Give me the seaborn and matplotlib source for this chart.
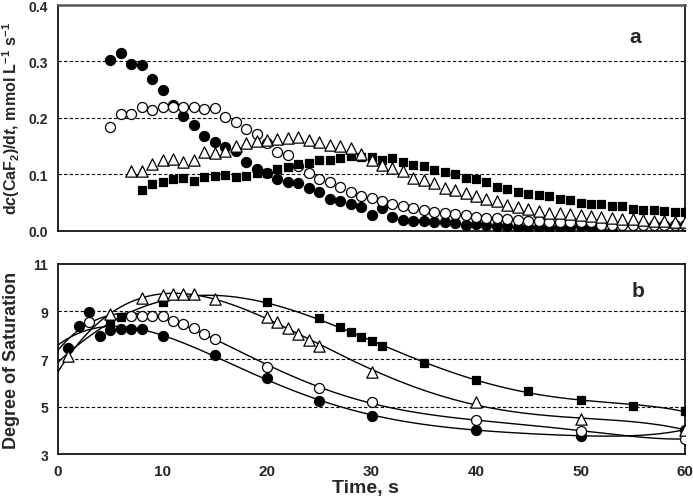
import numpy as np
import pandas as pd
import matplotlib
matplotlib.use("Agg")
import matplotlib.pyplot as plt
import seaborn as sns

# ---------------- data: panel a (rate) ----------------
a_fc_t = list(range(5, 54))
a_fc_v = [0.303, 0.315, 0.296, 0.293, 0.269, 0.249, 0.223, 0.204, 0.188, 0.168,
          0.158, 0.148, 0.142, 0.121, 0.110, 0.103, 0.091, 0.086, 0.085, 0.076,
          0.069, 0.056, 0.052, 0.048, 0.042, 0.027, 0.040, 0.025, 0.019, 0.017,
          0.017, 0.016, 0.015, 0.013, 0.011, 0.012, 0.010, 0.009, 0.008, 0.007,
          0.007, 0.007, 0.007, 0.007, 0.007, 0.008, 0.007, 0.000, 0.000]

a_oc_t = list(range(5, 61))
a_oc_v = [0.183, 0.207, 0.207, 0.219, 0.214, 0.219, 0.219, 0.220, 0.219, 0.215,
          0.217, 0.202, 0.192, 0.181, 0.171, 0.156, 0.140, 0.134, 0.115, 0.103,
          0.092, 0.086, 0.077, 0.069, 0.062, 0.058, 0.053, 0.048, 0.043, 0.040,
          0.037, 0.034, 0.031, 0.029, 0.028, 0.024, 0.023, 0.022, 0.020, 0.019,
          0.018, 0.017, 0.016, 0.015, 0.015, 0.015, 0.015, 0.010, 0.010, 0.010,
          0.010, 0.010, 0.010, 0.010, 0.010, 0.010]

a_tr_t = list(range(7, 61))
a_tr_v = [0.105, 0.105, 0.118, 0.125, 0.127, 0.121, 0.125, 0.140, 0.137, 0.142,
          0.150, 0.156, 0.159, 0.160, 0.162, 0.165, 0.166, 0.161, 0.157, 0.152,
          0.150, 0.146, 0.136, 0.126, 0.117, 0.111, 0.105, 0.094, 0.090, 0.084,
          0.075, 0.072, 0.067, 0.061, 0.056, 0.052, 0.046, 0.042, 0.038, 0.035,
          0.032, 0.031, 0.029, 0.028, 0.026, 0.024, 0.023, 0.021, 0.021, 0.019,
          0.018, 0.017, 0.016, 0.015]

a_sq_t = list(range(8, 61))
a_sq_v = [0.072, 0.082, 0.087, 0.091, 0.094, 0.088, 0.096, 0.097, 0.098, 0.096,
          0.097, 0.102, 0.103, 0.109, 0.113, 0.118, 0.120, 0.125, 0.126, 0.129,
          0.133, 0.131, 0.131, 0.126, 0.128, 0.122, 0.116, 0.114, 0.108, 0.104,
          0.100, 0.094, 0.091, 0.087, 0.078, 0.074, 0.068, 0.065, 0.064, 0.061,
          0.057, 0.054, 0.050, 0.048, 0.047, 0.044, 0.044, 0.038, 0.037, 0.036,
          0.035, 0.034, 0.033]

# ---------------- data: panel b (degree of saturation) ----------------
b_fc_t = [1, 2, 3, 4, 5, 6, 7, 8, 10, 15, 20, 25, 30, 40, 50, 60]
b_fc_v = [7.45, 8.37, 8.98, 7.98, 8.23, 8.26, 8.26, 8.24, 7.97, 7.17, 6.20, 5.25,
          4.62, 4.04, 3.78, 4.04]

b_oc_t = [3, 7, 8, 9, 10, 11, 12, 13, 14, 15, 20, 25, 30, 40, 50, 60]
b_oc_v = [8.56, 8.79, 8.82, 8.79, 8.79, 8.61, 8.47, 8.29, 8.05, 7.83, 6.68, 5.78,
          5.20, 4.44, 3.99, 3.65]

b_tr_t = [1, 5, 8, 10, 11, 12, 13, 15, 20, 21, 22, 23, 24, 25, 30, 40, 50, 60]
b_tr_v = [7.14, 8.89, 9.56, 9.70, 9.72, 9.75, 9.74, 9.54, 8.75, 8.54, 8.29, 8.05,
          7.81, 7.56, 6.47, 5.18, 4.48, 4.04]

b_sq_t = [5, 6, 10, 20, 25, 27, 28, 29, 30, 31, 35, 40, 45, 50, 55, 60]
b_sq_v = [8.54, 8.78, 9.40, 9.38, 8.71, 8.33, 8.12, 7.94, 7.74, 7.56, 6.83, 6.13,
          5.65, 5.29, 5.04, 4.81]

x_ticks_labels = ["0", "10", "20", "30", "40", "50", "60"]
a_yticks = [0.0, 0.1, 0.2, 0.3, 0.4]
b_yticks = [3, 5, 7, 9, 11]

# ---------------- style ----------------
sns.set_theme(style="white")
plt.rcParams['font.family'] = ['Liberation Sans', 'DejaVu Sans']
plt.rcParams['font.weight'] = 'bold'
plt.rcParams['mathtext.fontset'] = 'custom'
plt.rcParams['mathtext.rm'] = 'Liberation Sans:bold'
plt.rcParams['mathtext.it'] = 'Liberation Sans:bold:italic'
plt.rcParams['mathtext.bf'] = 'Liberation Sans:bold'

fig = plt.figure(figsize=(6.93, 5.02), dpi=100)
ax1 = fig.add_axes([0.0837, 0.5384, 0.9048, 0.4496])
ax2 = fig.add_axes([0.0837, 0.0928, 0.9048, 0.3799])

styles = {
    "fc": dict(marker="o", color="black", s=52),
    "oc": dict(marker="o", color="white", s=52),
    "tr": dict(marker="^", color="white", s=66),
    "sq": dict(marker="s", color="black", s=36),
}

def draw(ax, t, v, key, z):
    st = styles[key]
    sns.scatterplot(x=t, y=v, marker=st["marker"], color=st["color"], s=st["s"],
                    edgecolor="black", linewidth=0.9, ax=ax, zorder=z, legend=False)

# panel a
draw(ax1, a_fc_t, a_fc_v, "fc", 3)
draw(ax1, a_oc_t, a_oc_v, "oc", 4)
draw(ax1, a_sq_t, a_sq_v, "sq", 5)
draw(ax1, a_tr_t, a_tr_v, "tr", 6)

# panel b: fitted smooth curves through each series
tt = np.linspace(0, 60, 400)
for t, v, deg in [(b_fc_t, b_fc_v, 5), (b_oc_t, b_oc_v, 5),
                  (b_tr_t, b_tr_v, 5), (b_sq_t, b_sq_v, 5)]:
    p = np.polyfit(t, v, deg)
    fit = pd.DataFrame({"t": tt, "v": np.polyval(p, tt)})
    sns.lineplot(data=fit, x="t", y="v", color="black", linewidth=1.0,
                 ax=ax2, zorder=2, estimator=None, sort=False)

draw(ax2, b_fc_t, b_fc_v, "fc", 3)
draw(ax2, b_oc_t, b_oc_v, "oc", 4)
draw(ax2, b_sq_t, b_sq_v, "sq", 5)
draw(ax2, b_tr_t, b_tr_v, "tr", 6)

for ax in (ax1, ax2):
    ax.set_xlim(0, 60)
    ax.set_xticks(np.arange(0, 61, 5))
    for sp in ax.spines.values():
        sp.set_color("black")
        sp.set_linewidth(1.2)
    ax.tick_params(axis="both", direction="out", length=4, width=1, color="black",
                   labelsize=10, pad=3)
    ax.set_xlabel("")
    ax.set_ylabel("")
ax1.spines["top"].set_color("#555555")
ax1.spines["top"].set_linewidth(1.8)

ax1.set_ylim(0, 0.4)
ax1.set_yticks(a_yticks)
ax1.set_yticklabels([f"{v:.1f}" for v in a_yticks])
ax1.set_xticklabels([])
for g in a_yticks[1:-1]:
    ax1.axhline(g, color="black", linestyle=(0, (3, 2)), linewidth=0.8, zorder=1)

ax2.set_ylim(3, 11)
ax2.set_yticks(b_yticks)
ax2.set_yticklabels([str(v) for v in b_yticks])
ax2.set_xticklabels([x_ticks_labels[i // 2] if i % 2 == 0 else "" for i in range(13)],
                    fontsize=11)
for g in b_yticks[1:-1]:
    ax2.axhline(g, color="black", linestyle=(0, (3, 2)), linewidth=0.8, zorder=1)

ax1.text(0.92, 0.86, "a", transform=ax1.transAxes, fontsize=15, fontweight="bold",
         ha="center", va="center")
ax2.text(0.925, 0.86, "b", transform=ax2.transAxes, fontsize=15, fontweight="bold",
         ha="center", va="center")

ax1.set_ylabel(r"d$\mathit{c}$(CaF$_\mathrm{2}$)/d$\mathit{t}$, mmol L$^\mathrm{-1}$ s$^\mathrm{-1}$",
               fontsize=11.5, fontweight="bold")
ax1.yaxis.set_label_coords(-0.058, 0.5)
ax2.set_ylabel("Degree of Saturation", fontsize=13, fontweight="bold")
ax2.yaxis.set_label_coords(-0.06, 0.5)
ax2.set_xlabel("Time, s", fontsize=14, fontweight="bold",
               family=["Liberation Sans Narrow", "Liberation Sans"])
ax2.xaxis.set_label_coords(0.49, -0.13)

fig.savefig("out.png", dpi=100)
